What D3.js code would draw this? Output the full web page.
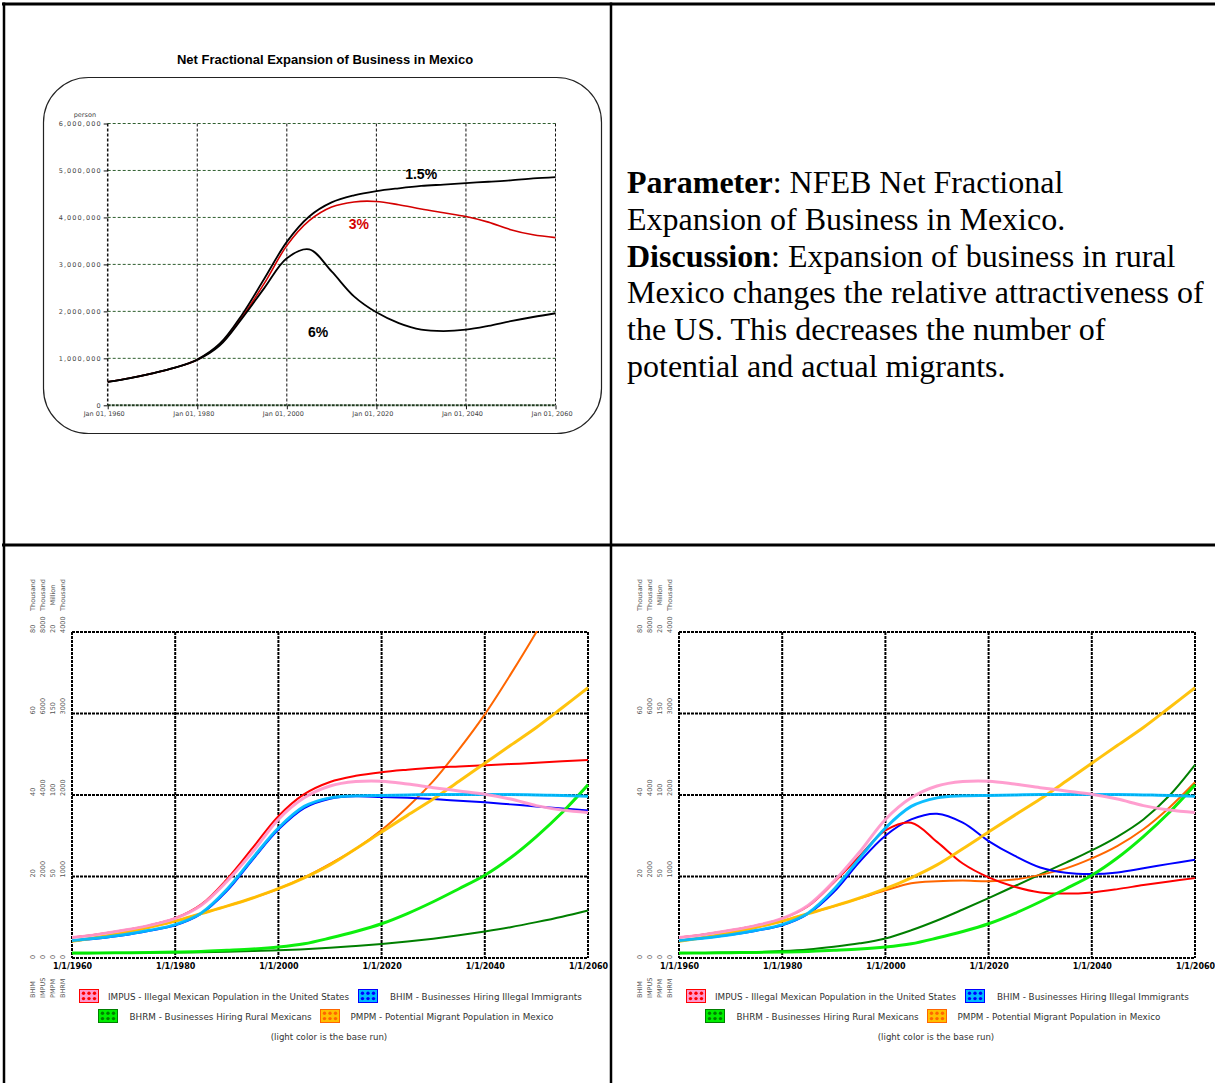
<!DOCTYPE html>
<html>
<head>
<meta charset="utf-8">
<script src="https://cdn.jsdelivr.net/npm/d3@7"></script>
<style>
  html, body { margin: 0; padding: 0; background: #fff; }
  svg { display: block; }
</style>
</head>
<body>
<svg id="page" width="1215" height="1083"></svg>
<script>
// ---------- data ----------
const years = [1960, 1965, 1970, 1975, 1980, 1985, 1990, 1995, 2000, 2005, 2010,
               2015, 2020, 2025, 2030, 2035, 2040, 2045, 2050, 2055, 2060];
const gridYears = [1960, 1980, 2000, 2020, 2040, 2060];

// IMPUS - Illegal Mexican Population in the United States (thousand persons)
const impusBase = [500, 580, 680, 800, 970, 1290, 1880, 2600, 3400, 3930, 4220,
                   4330, 4340, 4270, 4180, 4100, 4020, 3900, 3740, 3630, 3570];   // 3% (base run)
const impusLow  = [500, 580, 680, 800, 975, 1310, 1930, 2700, 3480, 4020, 4320,
                   4470, 4560, 4620, 4670, 4700, 4730, 4760, 4790, 4830, 4860];   // 1.5%
const impusHigh = [500, 580, 680, 800, 965, 1270, 1850, 2500, 3130, 3320, 2850,
                   2320, 1980, 1750, 1610, 1580, 1610, 1690, 1790, 1880, 1960];   // 6%

// BHIM - Businesses Hiring Illegal Immigrants (thousand)
const bhimBase = [4.3, 4.9, 5.7, 6.8, 8.2, 11.0, 16.8, 24.5, 31.9, 37.2, 39.3,
                  39.8, 39.9, 40.0, 40.1, 40.1, 40.1, 40.1, 40.0, 39.9, 39.7];
const bhimLow  = [4.2, 4.8, 5.6, 6.7, 8.0, 10.8, 16.4, 24.1, 31.5, 36.8, 39.1,
                  39.7, 39.5, 39.3, 39.0, 38.6, 38.2, 37.7, 37.2, 36.7, 36.2];
const bhimHigh = [4.3, 4.9, 5.7, 6.7, 8.0, 10.8, 16.2, 23.6, 30.0, 34.0, 35.4,
                  33.2, 28.7, 25.1, 22.2, 20.9, 20.6, 21.0, 22.0, 23.1, 24.1];

// PMPM - Potential Migrant Population in Mexico (million)
const pmpmBase = [10.2, 12.7, 15.5, 18.9, 22.6, 27.2, 31.8, 36.8, 42.5, 49.2, 57.1,
                  67.0, 77.3, 87.5, 97.5, 108.5, 119.5, 130.5, 141.4, 153.5, 165.8];
const pmpmLow  = [10.2, 12.7, 15.5, 18.9, 22.6, 27.2, 31.8, 36.8, 42.5, 49.4, 57.8,
                  67.0, 78.5, 92.5, 108.5, 128.0, 149.5, 174.0, 200.0, 228.0, 257.5];
const pmpmHigh = [10.2, 12.7, 15.5, 18.9, 22.6, 27.2, 31.8, 36.6, 41.5, 45.9, 47.1,
                  47.5, 47.1, 48.1, 51.0, 55.0, 61.1, 68.8, 79.0, 92.2, 107.8];

// BHRM - Businesses Hiring Rural Mexicans (thousand)
const bhrmBase = [60, 62, 65, 68, 73, 80, 94, 110, 135, 175, 245,
                  325, 420, 545, 690, 850, 1015, 1230, 1490, 1785, 2125];
const bhrmLow  = [58, 60, 62, 65, 68, 72, 78, 86, 94, 108, 125,
                  148, 173, 202, 237, 278, 325, 378, 440, 507, 583];
const bhrmHigh = [58, 62, 66, 72, 85, 105, 138, 180, 240, 340, 460,
                  595, 735, 880, 1025, 1170, 1320, 1490, 1700, 1990, 2370];

// top chart axis labels
const topYTicks = [0, 1000000, 2000000, 3000000, 4000000, 5000000, 6000000];
const topXLabels = ["Jan 01, 1960", "Jan 01, 1980", "Jan 01, 2000", "Jan 01, 2020", "Jan 01, 2040", "Jan 01, 2060"];
const scenarioLabels = ["1.5%", "3%", "6%"];

// bottom chart axis labels
const bottomXLabels = ["1/1/1960", "1/1/1980", "1/1/2000", "1/1/2020", "1/1/2040", "1/1/2060"];
const colNames = ["BHIM", "IMPUS", "PMPM", "BHRM"];
const colUnits = ["Thousand", "Thousand", "Million", "Thousand"];
const colMax = [80, 8000, 200, 4000];
const colTickValues = [[0, 20, 40, 60, 80], [0, 2000, 4000, 6000, 8000], [0, 50, 100, 150, 200], [0, 1000, 2000, 3000, 4000]];
const colTickLabels = [["0", "20", "40", "60", "80"], ["0", "2000", "4000", "6000", "8000"],
                       ["0", "50", "100", "150", "20"], ["0", "1000", "2000", "3000", "4000"]];
const legendNames = ["IMPUS - Illegal Mexican Population in the United States",
                     "BHIM - Businesses Hiring Illegal Immigrants",
                     "BHRM - Businesses Hiring Rural Mexicans",
                     "PMPM - Potential Migrant Population in Mexico"];
const legendNote = "(light color is the base run)";

// ---------- page ----------
const svg = d3.select("#page");
const defs = svg.append("defs");
const SANS = "'DejaVu Sans', Verdana, sans-serif";
const smooth = d3.curveCatmullRom.alpha(0.5);

// ---------- top-left: NFEB scenarios ----------
(function topChart() {
  const g = svg.append("g");
  g.append("text").attr("x", 325).attr("y", 64).attr("text-anchor", "middle")
    .style("font-family", "'Liberation Sans', Arial, sans-serif").style("font-weight", "bold")
    .style("font-size", "13px").text("Net Fractional Expansion of Business in Mexico");
  g.append("rect").attr("x", 43.5).attr("y", 77.5).attr("width", 558).attr("height", 356)
    .attr("rx", 45).attr("ry", 45).attr("fill", "none").attr("stroke", "#222").attr("stroke-width", 1.2);

  const x = d3.scaleLinear().domain([1960, 2060]).range([107.7, 555.5]);
  const y = d3.scaleLinear().domain([0, 6000000]).range([405.3, 123.5]);

  // horizontal grid
  g.append("g").selectAll("line").data(topYTicks.filter(d => d > 0)).join("line")
    .attr("x1", x(1960)).attr("x2", x(2060)).attr("y1", d => y(d)).attr("y2", d => y(d))
    .attr("stroke", "#2f5f2f").attr("stroke-width", 1).attr("stroke-dasharray", "3,2");
  // vertical grid
  g.append("g").selectAll("line").data(gridYears).join("line")
    .attr("x1", d => x(d)).attr("x2", d => x(d)).attr("y1", y(6000000)).attr("y2", y(0))
    .attr("stroke", "#111").attr("stroke-width", d => d === 1960 ? 1.5 : 1).attr("stroke-dasharray", "3,2");
  // baseline
  g.append("line").attr("x1", x(1960)).attr("x2", x(2060)).attr("y1", y(0)).attr("y2", y(0))
    .attr("stroke", "#1e3a1e").attr("stroke-width", 2).attr("stroke-dasharray", "3,1");

  // y axis
  const ya = d3.axisLeft(y).tickValues(topYTicks).tickFormat(d3.format(",")).tickSize(4).tickPadding(2);
  const yg = g.append("g").attr("transform", `translate(${x(1960)},0)`).call(ya);
  yg.select(".domain").remove();
  yg.selectAll("line").attr("stroke", "#111");
  yg.selectAll("text").style("font-family", SANS).style("font-size", "6.5px")
    .style("letter-spacing", "1.1px").attr("fill", "#444");
  g.append("text").attr("x", 96).attr("y", 117).attr("text-anchor", "end")
    .style("font-family", SANS).style("font-size", "6.5px").attr("fill", "#444").text("person");

  // x axis
  const xa = d3.axisBottom(x).tickValues(gridYears).tickFormat((d, i) => topXLabels[i]).tickSize(4).tickPadding(2);
  const xg = g.append("g").attr("transform", `translate(0,${y(0)})`).call(xa);
  xg.select(".domain").remove();
  xg.selectAll("line").attr("stroke", "#111");
  xg.selectAll("text").style("font-family", SANS).style("font-size", "6.5px")
    .attr("fill", "#444").attr("dx", -4);

  const line = d3.line().x((d, i) => x(years[i])).y(d => y(d * 1000)).curve(smooth);
  g.append("path").datum(impusBase).attr("d", line).attr("fill", "none")
    .attr("stroke", "#d40000").attr("stroke-width", 1.6);
  g.append("path").datum(impusLow).attr("d", line).attr("fill", "none")
    .attr("stroke", "#000").attr("stroke-width", 1.8);
  g.append("path").datum(impusHigh).attr("d", line).attr("fill", "none")
    .attr("stroke", "#000").attr("stroke-width", 1.8);

  const lab = (t, yr, v, c) => g.append("text").attr("x", x(yr)).attr("y", y(v))
    .attr("text-anchor", "middle").style("font-family", "'Liberation Sans', Arial, sans-serif")
    .style("font-weight", "bold").style("font-size", "14px").attr("fill", c).text(t);
  lab(scenarioLabels[0], 2030.0, 4820000, "#000");
  lab(scenarioLabels[1], 2016.1, 3750000, "#d40000");
  lab(scenarioLabels[2], 2007.0, 1450000, "#000");
})();

// ---------- top-right: description ----------
(function description() {
  const lines = [
    [["Parameter", true], [": NFEB Net Fractional", false]],
    [["Expansion of Business in Mexico.", false]],
    [["Discussion", true], [": Expansion of business in rural", false]],
    [["Mexico changes the relative attractiveness of", false]],
    [["the US. This decreases the number of", false]],
    [["potential and actual migrants.", false]]
  ];
  const t = svg.append("text").style("font-family", "'Liberation Serif', 'Times New Roman', serif")
    .style("font-size", "32px").attr("fill", "#000");
  lines.forEach((ln, i) => {
    ln.forEach((seg, j) => {
      const s = t.append("tspan").text(seg[0]).style("font-weight", seg[1] ? "bold" : "normal");
      if (j === 0) s.attr("x", 627).attr("y", 193 + 36.8 * i);
    });
  });
})();

// ---------- bottom panels ----------
const colors = {
  IMPUS: { cur: "#ff0000", base: "#ff99cc" },
  BHIM:  { cur: "#0000ff", base: "#00bbff" },
  BHRM:  { cur: "#007f00", base: "#00ee00" },
  PMPM:  { cur: "#ff6600", base: "#ffc000" }
};

function drawPanel(left, run) {
  const W = 516, top = 632, bottom = 958;
  const g = svg.append("g");
  const x = d3.scaleLinear().domain([1960, 2060]).range([left, left + W]);
  const yOf = {};
  colNames.forEach((n, i) => { yOf[n] = d3.scaleLinear().domain([0, colMax[i]]).range([bottom, top]); });
  const yGrid = yOf.BHRM;

  // grid + frame
  const gridStyle = s => s.attr("stroke", "#000").attr("stroke-width", 2).attr("stroke-dasharray", "3,1");
  g.append("g").selectAll("line").data(colTickValues[3]).join("line")
    .attr("x1", left).attr("x2", left + W).attr("y1", d => yGrid(d)).attr("y2", d => yGrid(d)).call(gridStyle);
  g.append("g").selectAll("line").data(gridYears).join("line")
    .attr("x1", d => x(d)).attr("x2", d => x(d)).attr("y1", top).attr("y2", bottom).call(gridStyle);

  // series
  const clipId = "clip" + left;
  defs.append("clipPath").attr("id", clipId).append("rect")
    .attr("x", left).attr("y", top - 1).attr("width", W + 1).attr("height", bottom - top + 2);
  const series = [
    { name: "BHRM", vals: run.bhrm, base: bhrmBase },
    { name: "PMPM", vals: run.pmpm, base: pmpmBase },
    { name: "BHIM", vals: run.bhim, base: bhimBase },
    { name: "IMPUS", vals: run.impus, base: impusBase }
  ];
  const plot = g.append("g").attr("clip-path", `url(#${clipId})`);
  const mk = name => d3.line().x((d, i) => x(years[i])).y(d => yOf[name](d)).curve(smooth);
  series.forEach(s => {
    plot.append("path").datum(s.vals).attr("d", mk(s.name)).attr("fill", "none")
      .attr("stroke", colors[s.name].cur).attr("stroke-width", 2);
  });
  series.forEach(s => {
    plot.append("path").datum(s.base).attr("d", mk(s.name)).attr("fill", "none")
      .attr("stroke", colors[s.name].base).attr("stroke-width", 3).attr("stroke-opacity", 0.95);
  });

  // x axis labels
  const xa = d3.axisBottom(x).tickValues(gridYears).tickFormat((d, i) => bottomXLabels[i]).tickSize(0).tickPadding(5);
  const xg = g.append("g").attr("transform", `translate(0,${bottom})`).call(xa);
  xg.select(".domain").remove();
  xg.selectAll("text").style("font-family", SANS).style("font-weight", "bold")
    .style("font-size", "8px").attr("fill", "#000");

  // stacked y axis labels, one rotated column per variable
  colNames.forEach((n, ci) => {
    const cx = left - 39 + 10 * ci;
    colTickValues[ci].forEach((v, ti) => {
      const yy = yOf[n](v) + 1;
      g.append("text").attr("transform", `translate(${cx},${yy}) rotate(-90)`)
        .attr("dy", "0.35em").attr("text-anchor", "start")
        .style("font-family", SANS).style("font-size", "6.5px").attr("fill", "#555")
        .text(colTickLabels[ci][ti]);
    });
    g.append("text").attr("transform", `translate(${cx},595) rotate(-90)`)
      .attr("dy", "0.35em").attr("text-anchor", "middle")
      .style("font-family", SANS).style("font-size", "6.5px").attr("fill", "#555").text(colUnits[ci]);
    g.append("text").attr("transform", `translate(${cx},998) rotate(-90)`)
      .attr("dy", "0.35em").attr("text-anchor", "start")
      .style("font-family", SANS).style("font-size", "6.5px").attr("fill", "#555").text(n);
  });

  // legend
  const items = [
    { key: "IMPUS", label: legendNames[0], ix: 7, tx: 36, y: 989 },
    { key: "BHIM", label: legendNames[1], ix: 286, tx: 318, y: 989 },
    { key: "BHRM", label: legendNames[2], ix: 26, tx: 57.5, y: 1009 },
    { key: "PMPM", label: legendNames[3], ix: 248, tx: 278.5, y: 1009 }
  ];
  items.forEach(it => {
    const c = colors[it.key];
    const ig = g.append("g").attr("transform", `translate(${left + it.ix},${it.y})`);
    ig.append("rect").attr("x", 0.5).attr("y", 0.5).attr("width", 19).attr("height", 13)
      .attr("fill", c.base).attr("stroke", c.cur).attr("stroke-width", 1);
    [0, 1, 2].forEach(cx => [0, 1].forEach(cy => {
      ig.append("circle").attr("cx", 4.5 + 5.5 * cx).attr("cy", 4.2 + 5.4 * cy).attr("r", 1.7).attr("fill", c.cur);
    }));
    g.append("text").attr("x", left + it.tx).attr("y", it.y + 8).attr("dy", "0.35em")
      .style("font-family", SANS).style("font-size", "8.8px").attr("fill", "#333").text(it.label);
  });
  g.append("text").attr("x", left + 257).attr("y", 1037).attr("dy", "0.35em").attr("text-anchor", "middle")
    .style("font-family", SANS).style("font-size", "8.6px").attr("fill", "#333").text(legendNote);
}

drawPanel(72, { impus: impusLow, bhim: bhimLow, pmpm: pmpmLow, bhrm: bhrmLow });
drawPanel(679, { impus: impusHigh, bhim: bhimHigh, pmpm: pmpmHigh, bhrm: bhrmHigh });

// ---------- page rules ----------
const rule = (x1, y1, x2, y2, w) => svg.append("line").attr("x1", x1).attr("y1", y1)
  .attr("x2", x2).attr("y2", y2).attr("stroke", "#000").attr("stroke-width", w);
rule(2, 4, 1215, 4, 3);
rule(4, 2.5, 4, 1083, 2.5);
rule(611, 2.5, 611, 1083, 2.5);
rule(2, 545, 1215, 545, 3);
</script>
</body>
</html>
